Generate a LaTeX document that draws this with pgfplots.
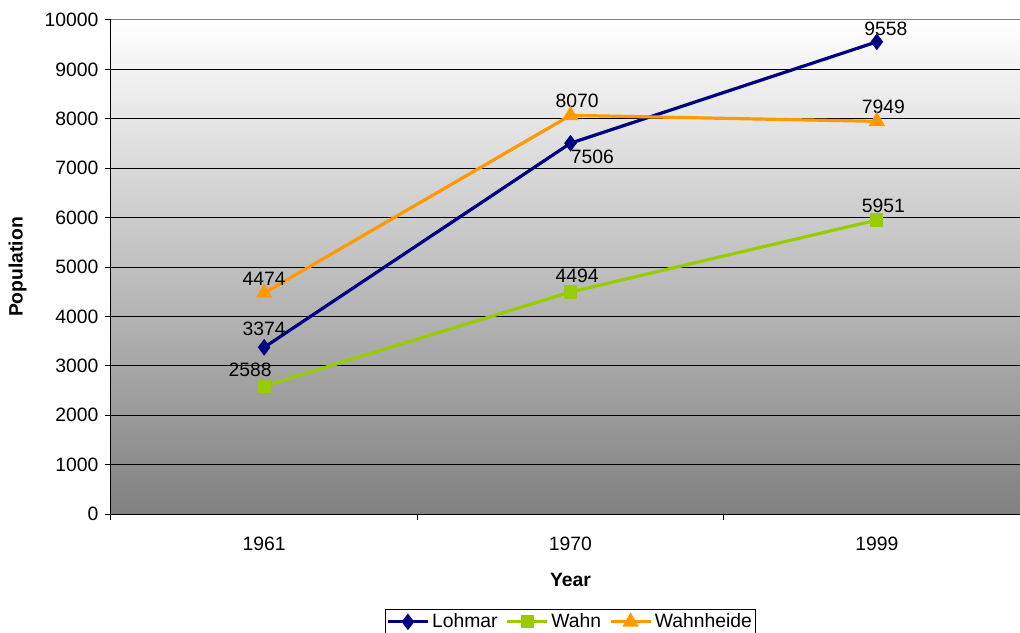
\documentclass[border=0pt]{standalone}
\usepackage{pgfplots}
\pgfplotsset{compat=1.18}
\usepackage{fontspec}
\setmainfont{Liberation Sans}
\definecolor{lohmar}{RGB}{0,0,128}
\definecolor{wahn}{RGB}{153,204,0}
\definecolor{wahnheide}{RGB}{255,153,0}
\definecolor{bgbottom}{RGB}{128,128,128}
\begin{document}
\fontsize{14.5}{17}\selectfont
\begin{tikzpicture}
\path[use as bounding box] (-83.25pt,-88.5pt) rectangle (681.75pt,385.5pt);
\begin{axis}[
  at={(0pt,0pt)}, anchor=south west,
  scale only axis, width=689.25pt, height=370.5pt,
  font=\fontsize{14.5}{17}\selectfont,
  scaled y ticks=false,
  /pgf/number format/assume math mode=true,
  /pgf/number format/set thousands separator={},
  xmin=-0.5, xmax=2.5, ymin=0, ymax=10000,
  xtick={-0.5,0.5,1.5,2.5}, xticklabels={},
  extra x ticks={0,1,2}, extra x tick labels={1961,1970,1999},
  extra x tick style={major tick length=0pt},
  x tick label style={yshift=-12pt},
  ytick={0,1000,...,10000},
  ymajorgrids, grid style={black, line width=0.75pt},
  tick align=outside, major tick length=4.5pt,
  tick style={black, line width=0.75pt},
  axis x line*=bottom, axis y line*=left,
  axis line style={black, line width=0.75pt, -},
  axis background/.style={top color=white, bottom color=bgbottom},
  xlabel={\textbf{Year}},
  xlabel style={at={(axis description cs:0.5,0)}, anchor=north, yshift=-39pt},
  ylabel={\textbf{Population}},
  ylabel style={at={(axis description cs:-0.1015,0.5)}, anchor=center},
  legend columns=3,
  legend style={at={(axis description cs:0.5,-0.192)}, anchor=north,
    draw=black, fill=white, inner sep=1pt, line width=0.75pt,
    font=\fontsize{14.5}{17}\selectfont,
    /tikz/every even column/.append style={column sep=4pt}},
  legend image code/.code={\draw[mark repeat=2,mark phase=2] plot coordinates {(0cm,0cm)(0.525cm,0cm)(1.05cm,0cm)};},
]
\addplot[lohmar, line width=2.4pt, mark=diamond*, mark size=4.3pt, mark options={solid}] coordinates {(0,3374)(1,7506)(2,9558)};
\addlegendentry{Lohmar}
\addplot[wahn, line width=2.4pt, mark=square*, mark size=3.7pt] coordinates {(0,2588)(1,4494)(2,5951)};
\addlegendentry{Wahn}
\addplot[wahnheide, line width=2.4pt, mark=triangle*, mark size=4.7pt] coordinates {(0,4474)(1,8070)(2,7949)};
\addlegendentry{Wahnheide}
\draw[color=bgbottom, line width=0.75pt] (rel axis cs:0,1) -- (rel axis cs:1,1);
% data labels
\node[xshift=0pt,yshift=14pt] at (axis cs:0,3374) {3374};
\node[xshift=16.5pt,yshift=-10.5pt] at (axis cs:1,7506) {7506};
\node[xshift=6.75pt,yshift=9.75pt] at (axis cs:2,9558) {9558};
\node[xshift=-10.5pt,yshift=12pt] at (axis cs:0,2588) {2588};
\node[xshift=5pt,yshift=12pt] at (axis cs:1,4494) {4494};
\node[xshift=5pt,yshift=11pt] at (axis cs:2,5951) {5951};
\node[xshift=0pt,yshift=10.5pt] at (axis cs:0,4474) {4474};
\node[xshift=5pt,yshift=11pt] at (axis cs:1,8070) {8070};
\node[xshift=5pt,yshift=10.5pt] at (axis cs:2,7949) {7949};
\end{axis}
\end{tikzpicture}
\end{document}
